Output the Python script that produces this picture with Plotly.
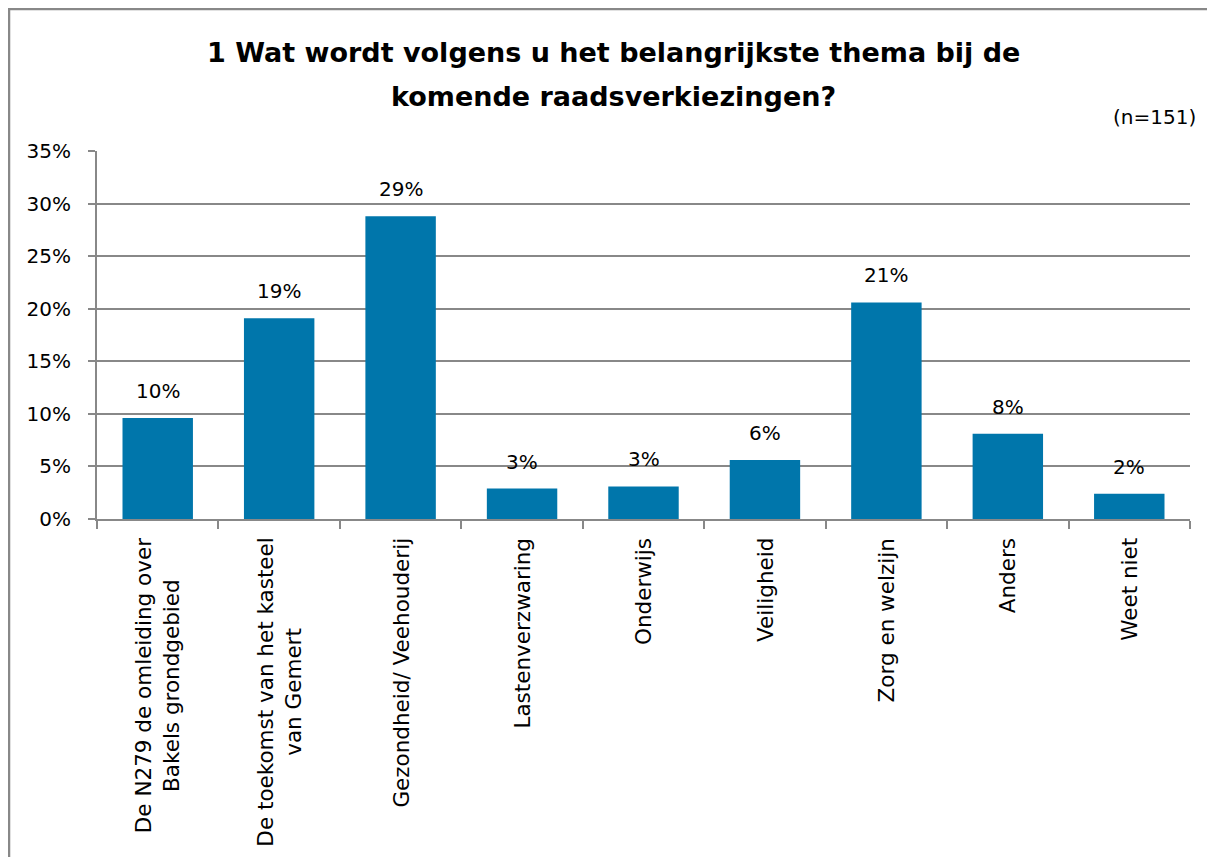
import plotly.graph_objects as go

categories = [
    "De N279 de omleiding over<br>Bakels grondgebied",
    "De toekomst van het kasteel<br>van Gemert",
    "Gezondheid/ Veehouderij",
    "Lastenverzwaring",
    "Onderwijs",
    "Veiligheid",
    "Zorg en welzijn",
    "Anders",
    "Weet niet",
]
values = [0.096, 0.191, 0.288, 0.029, 0.031, 0.056, 0.206, 0.081, 0.024]
value_labels = ["10%", "19%", "29%", "3%", "3%", "6%", "21%", "8%", "2%"]
tick_vals = [0, 0.05, 0.10, 0.15, 0.20, 0.25, 0.30, 0.35]
tick_text = ["0%", "5%", "10%", "15%", "20%", "25%", "30%", "35%"]
title_lines = [
    "1 Wat wordt volgens u het belangrijkste thema bij de",
    "komende raadsverkiezingen?",
]
note = "(n=151)"

FONT = "DejaVu Sans"
GREY = "#888888"

fig = go.Figure()
fig.add_trace(go.Bar(
    x=categories, y=values,
    marker=dict(color="#0076AB", line=dict(width=0)),
    width=0.58,
    hoverinfo="x+y",
))

# value labels above bars
for c, v, t in zip(categories, values, value_labels):
    fig.add_annotation(x=c, y=v, xref="x", yref="y", text=t, showarrow=False,
                       yanchor="bottom", yshift=13,
                       font=dict(family=FONT, size=20, color="#000000"))

# rotated category labels (centered multi-line, like the original)
for c in categories:
    fig.add_annotation(x=c, y=0, xref="x", yref="y", text=c, showarrow=False,
                       textangle=-90, align="center",
                       xanchor="center", yanchor="top", yshift=-17,
                       font=dict(family=FONT, size=21.5, color="#000000"))

fig.update_layout(
    width=1207, height=849,
    paper_bgcolor="white", plot_bgcolor="white",
    margin=dict(l=89, r=25, t=143, b=338),
    showlegend=False,
    font=dict(family=FONT, size=20, color="#000000"),
    xaxis=dict(
        tickson="boundaries", ticks="outside", ticklen=8,
        tickcolor=GREY, tickwidth=2, showline=True, linecolor=GREY, linewidth=2,
        showgrid=False, showticklabels=False,
    ),
    yaxis=dict(
        range=[0, 0.35], tickvals=tick_vals, ticktext=tick_text,
        ticks="outside", ticklen=7, tickcolor=GREY, tickwidth=2,
        showline=True, linecolor=GREY, linewidth=2,
        showgrid=True, gridcolor=GREY, gridwidth=2,
        zeroline=False, ticklabelstandoff=13,
        tickfont=dict(family=FONT, size=20),
    ),
    bargap=0.42,
)

# title (two lines with generous spacing)
for txt, yy in zip(title_lines, [1.269, 1.147]):
    fig.add_annotation(text=f"<b>{txt}</b>", xref="paper", yref="paper",
                       x=0.4726, y=yy, xanchor="center", yanchor="middle",
                       showarrow=False,
                       font=dict(family=FONT, size=27, color="#000000"))

fig.add_annotation(
    text=note, xref="paper", yref="paper",
    x=1.0073, y=1.0924, xanchor="right", yanchor="middle",
    showarrow=False, font=dict(family=FONT, size=20, color="#000000"),
)

fig.add_shape(
    type="rect", xref="paper", yref="paper",
    x0=-0.0805, y0=-1.5, x1=1.2, y1=1.386,
    line=dict(color=GREY, width=2.5), fillcolor="rgba(0,0,0,0)",
    layer="below",
)

fig.write_html("out.html")
